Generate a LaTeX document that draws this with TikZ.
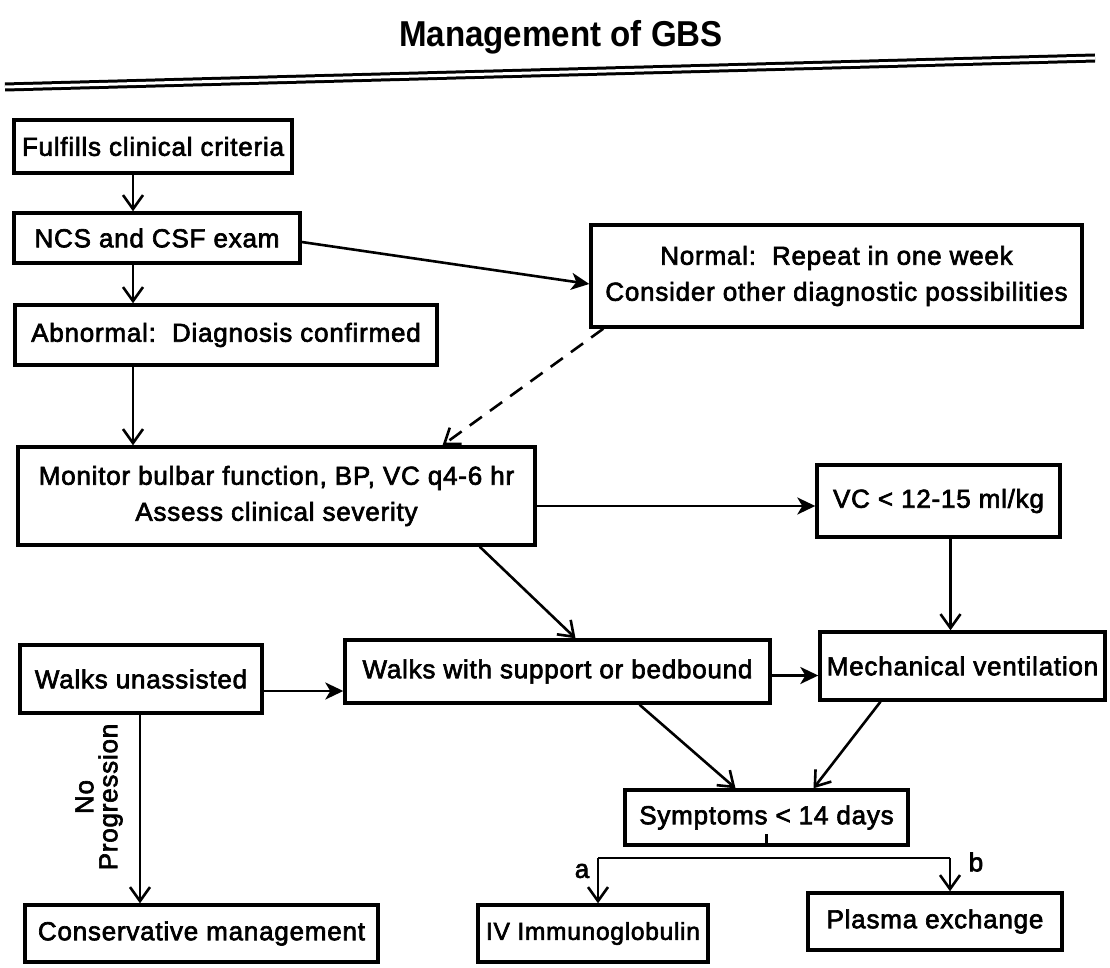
\documentclass[tikz,border=0pt]{standalone}
\usepackage{fontspec}
\setmainfont{Liberation Sans}[LetterSpace=3, FakeBold=2.5]
\newfontfamily\titlefont{Liberation Sans}[FakeStretch=0.92]
\usetikzlibrary{arrows.meta}
\begin{document}
\begin{tikzpicture}[x=1pt,y=-1pt,
  box/.style={draw, line width=3.4pt, inner sep=0pt, align=center,
    font=\fontsize{26}{36}\selectfont},
  arr/.style={line width=2.6pt, -{Straight Barb[length=14pt,width=20pt,line width=2.6pt]}},
  hd/.style={line width=2.6pt, -{Stealth[length=18pt,width=17pt,inset=5pt]}},
  plain/.style={line width=2.6pt},
  lbl/.style={font=\fontsize{26}{28}\selectfont, inner sep=0pt}
]
\useasboundingbox (0,0) rectangle (1110,968);

% title and rule
\node[font=\titlefont\bfseries\fontsize{36}{38}\selectfont, inner sep=0pt] (title) at (561,37) {Management of GBS};
\coordinate (rl) at (5,87);
\coordinate (rr) at (1095,58);
\draw[line width=3pt, double distance=3pt] (rl) -- (rr);

% boxes
\node[box, minimum width=278pt, minimum height=53pt] (fulfill) at (153,146.5) {Fulfills clinical criteria};
\node[box, minimum width=286pt, minimum height=50pt] (ncs) at (157,238) {NCS and CSF exam};
\node[box, minimum width=491pt, minimum height=102pt] (normal) at (836.5,276) {Normal:\ \ Repeat in one week\\Consider other diagnostic possibilities};
\node[box, minimum width=422pt, minimum height=60pt] (abn) at (226,335) {Abnormal:\ \ Diagnosis confirmed};
\node[box, minimum width=517pt, minimum height=98pt] (mon) at (276.5,496) {Monitor bulbar function, BP, VC q4-6 hr\\Assess clinical severity};
\node[box, minimum width=243pt, minimum height=72pt] (vc) at (938.5,501) {VC < 12-15 ml/kg};
\node[box, minimum width=242pt, minimum height=68pt] (wu) at (141,679) {Walks unassisted};
\node[box, minimum width=425pt, minimum height=63pt] (ws) at (557.5,671.5) {Walks with support or bedbound};
\node[box, minimum width=285pt, minimum height=68pt] (mv) at (962.5,666) {Mechanical ventilation};
\node[box, minimum width=283pt, minimum height=55pt] (sym) at (766.5,817.5) {Symptoms < 14 days};
\node[box, minimum width=353pt, minimum height=57pt] (cons) at (201.5,933.5) {Conservative management};
\node[box, minimum width=230pt, minimum height=57pt, font=\fontsize{24.5}{36}\selectfont] (iv) at (593,933.5) {IV Immunoglobulin};
\node[box, minimum width=254pt, minimum height=57pt] (pe) at (935,921.5) {Plasma exchange};

% columns
\coordinate (c1) at (133,0);
\coordinate (c2) at (140,0);

% connectors
\draw[arr] (fulfill.south -| c1) -- (ncs.north -| c1);
\draw[arr] (ncs.south -| c1) -- (abn.north -| c1);
\draw[arr] (abn.south -| c1) -- (mon.north -| c1);
\draw[hd] ([yshift=-4pt]ncs.east) -- ([yshift=-8pt]normal.west);
\draw[arr, dash pattern=on 15pt off 10pt] ([xshift=14pt]normal.south west) -- ([xshift=166pt]mon.north);
\draw[hd] ([yshift=-10pt]mon.east) -- ([yshift=-10pt]mon.east -| vc.west);
\draw[arr] ([xshift=-57pt]mon.south east) -- ([xshift=18pt]ws.north);
\draw[arr] ([xshift=12pt]vc.south) -- ([xshift=12pt]vc.south |- mv.north);
\draw[hd] ([yshift=-12pt]wu.east) -- ([yshift=-12pt]wu.east -| ws.west);
\draw[hd] ([yshift=-4pt]ws.east) -- ([yshift=-4pt]ws.east -| mv.west);
\draw[arr] (wu.south -| c2) -- (cons.north -| c2);
\node[lbl, rotate=90, align=center, font=\fontsize{26}{24}\selectfont] (np) at (99,797) {No\\Progression};
\draw[arr] ([xshift=82pt]ws.south) -- ([xshift=-31pt]sym.north);
\draw[arr] ([xshift=-82pt]mv.south) -- ([xshift=47pt]sym.north);
\coordinate (br) at ([yshift=13pt]sym.south);
\coordinate (bl) at (598,858);
\coordinate (bx) at (950,858);
\draw[plain] (sym.south) -- (br);
\draw[plain] (bl) -- (bx);
\draw[arr] (bl) -- (iv.north -| bl);
\draw[arr] (bx) -- (pe.north -| bx);
\node[lbl] (la) at (582,871) {a};
\node[lbl] (lb) at (976,862) {b};
\end{tikzpicture}
\end{document}
